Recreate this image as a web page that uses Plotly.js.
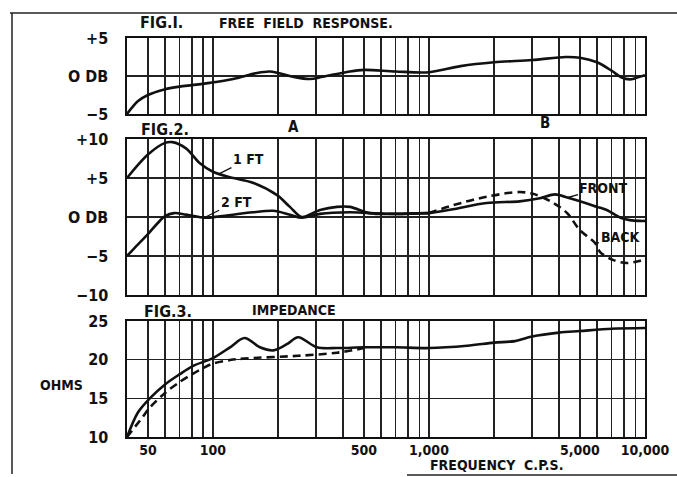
<!DOCTYPE html>
<html>
<head>
<meta charset="utf-8">
<script src="https://cdn.plot.ly/plotly-3.0.1.min.js"></script>
<style>html,body{margin:0;padding:0;background:#fff;}#chart{width:677px;height:477px;}</style>
</head>
<body>
<div id="chart"></div>
<script>
// ---- DATA ----
const fig1Freq = [40, 45, 50, 59, 70, 80, 97, 124, 160, 183, 200, 235, 281, 322, 430, 500, 700, 1000, 1400, 2000, 3000, 4300, 5000, 6000, 7000, 7800, 8500, 9000, 10000];
const fig1DB   = [-5, -3.3, -2.5, -1.8, -1.4, -1.2, -0.9, -0.4, 0.4, 0.6, 0.4, -0.1, -0.4, -0.1, 0.6, 0.8, 0.6, 0.5, 1.3, 1.8, 2.1, 2.5, 2.4, 1.8, 0.7, -0.2, -0.45, -0.3, 0.1];

const oneFtFreq = [40, 50, 60, 65, 75, 87, 100, 120, 153, 198, 227, 258, 313, 375, 430, 530, 700, 1000];
const oneFtDB   = [5, 8.0, 9.5, 9.6, 8.8, 6.9, 5.8, 5.1, 4.4, 2.8, 1.3, 0, 0.9, 1.3, 1.3, 0.5, 0.4, 0.5];

const twoFtFreq = [40, 45, 50, 55, 60, 66, 75, 92, 108, 153, 190, 227, 258, 313, 430, 530, 700, 1000];
const twoFtDB   = [-5, -3.5, -2.2, -0.9, 0.1, 0.5, 0.3, -0.1, 0.1, 0.6, 0.8, 0.3, -0.1, 0.4, 0.6, 0.5, 0.4, 0.5];

const frontFreq = [1000, 1290, 1850, 2630, 3260, 3830, 4490, 5300, 6000, 6650, 7700, 8500, 9500, 10000];
const frontDB   = [0.5, 1.0, 1.8, 2.0, 2.4, 2.9, 2.4, 1.8, 1.3, 0.9, -0.1, -0.4, -0.5, -0.5];

const backFreq = [1000, 1290, 1850, 2630, 3100, 3770, 4360, 5000, 5860, 6200, 7100, 8250, 9500, 10000];
const backDB   = [0.5, 1.5, 2.6, 3.2, 2.9, 1.8, 0.5, -1.7, -3.3, -4.5, -5.5, -5.9, -5.6, -5.4];

const impFreq = [40, 45, 51, 60, 70, 81, 100, 120, 140, 165, 190, 220, 248, 303, 375, 500, 700, 1000, 1500, 2000, 2500, 3000, 4000, 5000, 7000, 10000];
const impOhms = [10, 13.2, 15.0, 16.8, 18.1, 19.2, 20.2, 21.6, 22.8, 21.6, 21.2, 22.0, 22.9, 21.6, 21.5, 21.6, 21.6, 21.5, 21.8, 22.2, 22.4, 23.0, 23.5, 23.7, 24.0, 24.1];

const impDashFreq = [40, 47, 51, 60, 70, 81, 90, 100, 120, 140, 248, 375, 500];
const impDashOhms = [10, 12.5, 13.8, 15.7, 17.1, 18.2, 18.9, 19.5, 19.95, 20.15, 20.5, 20.9, 21.5];

const gridFreqs = [50,60,70,80,90,100,200,300,400,500,600,700,800,900,1000,2000,3000,4000,5000,6000,7000,8000,9000,10000];
const labelFreqs = {50:'50', 100:'100', 500:'500', 1000:'1,000', 5000:'5,000', 10000:'10,000'};

const fig1Ticks = [-5, 0, 5], fig1TickText = ['\u22125', 'O DB', '+5'];
const fig2Ticks = [-10, -5, 0, 5, 10], fig2TickText = ['\u221210', '\u22125', 'O DB', '+5', '+10'];
const fig3Ticks = [10, 15, 20, 25], fig3TickText = ['10', '15', '20', '25'];

// ---- STYLE / LAYOUT ----
const FONT = 'DejaVu Sans Condensed, Liberation Sans, Arial, sans-serif';
const L = 127, T = 38, W = 518, H = 399;
const px = v => (v - L) / W;
const py = v => (T + H - v) / H;

const line = {color: '#111', width: 2.6, shape: 'spline', smoothing: 0.9};
const dashLine = Object.assign({}, line, {dash: '8px,5px'});

const traces = [
  {x: fig1Freq, y: fig1DB, xaxis: 'x', yaxis: 'y', mode: 'lines', line: line},
  {x: oneFtFreq, y: oneFtDB, xaxis: 'x2', yaxis: 'y2', mode: 'lines', line: line},
  {x: twoFtFreq, y: twoFtDB, xaxis: 'x2', yaxis: 'y2', mode: 'lines', line: line},
  {x: frontFreq, y: frontDB, xaxis: 'x2', yaxis: 'y2', mode: 'lines', line: line},
  {x: backFreq, y: backDB, xaxis: 'x2', yaxis: 'y2', mode: 'lines', line: dashLine},
  {x: impFreq, y: impOhms, xaxis: 'x3', yaxis: 'y3', mode: 'lines', line: line},
  {x: impDashFreq, y: impDashOhms, xaxis: 'x3', yaxis: 'y3', mode: 'lines', line: dashLine}
];

function xax(anchor, labels) {
  return {
    anchor: anchor, domain: [0, 1], type: 'log', range: [Math.log10(40), 4],
    tickmode: 'array', tickvals: gridFreqs,
    ticktext: gridFreqs.map(f => labelFreqs[f] || ''),
    showticklabels: labels, ticks: '',
    ticklabelstandoff: 0,
    tickfont: {family: FONT, size: 14, color: '#111', weight: 'bold'},
    showgrid: true, gridcolor: '#222', gridwidth: 1.2,
    showline: true, mirror: true, linecolor: '#111', linewidth: 1.6,
    zeroline: false, fixedrange: true
  };
}
function yax(domain, range, tv, tt) {
  return {
    domain: domain, range: range, tickmode: 'array', tickvals: tv, ticktext: tt,
    ticks: '', ticklabelstandoff: 14,
    tickfont: {family: FONT, size: 16, color: '#111', weight: 'bold'},
    showgrid: true, gridcolor: '#222', gridwidth: 1.2,
    showline: true, mirror: true, linecolor: '#111', linewidth: 1.6,
    zeroline: false, fixedrange: true
  };
}

function txt(text, x, y, size, anchor) {
  return {text: text, xref: 'paper', yref: 'paper', x: px(x), y: py(y),
    xanchor: anchor || 'left', yanchor: 'middle', showarrow: false,
    font: {family: FONT, size: size || 14, color: '#111', weight: 'bold'}};
}
function lbl(text, f, v, ax, ay) {
  return {text: text, xref: 'x2', yref: 'y2', x: Math.log10(f), y: v, ax: ax, ay: ay,
    showarrow: true, arrowhead: 0, arrowwidth: 1.3, arrowcolor: '#111', standoff: 0,
    font: {family: FONT, size: 14, color: '#111', weight: 'bold'}};
}

const layout = {
  width: 677, height: 477,
  margin: {l: L, r: 677 - L - W, t: T, b: 477 - T - H},
  paper_bgcolor: '#fff', plot_bgcolor: '#fff',
  showlegend: false,
  xaxis: xax('y', false),
  xaxis2: xax('y2', false),
  xaxis3: xax('y3', true),
  yaxis: yax([py(114), 1], [-5, 5], fig1Ticks, fig1TickText),
  yaxis2: yax([py(295), py(139)], [-10, 10], fig2Ticks, fig2TickText),
  yaxis3: yax([0, py(321)], [10, 25], fig3Ticks, fig3TickText),
  annotations: [
    txt('FIG.I.', 138, 23, 16),
    txt('FREE  FIELD  RESPONSE.', 217, 23, 14),
    txt('FIG.2.', 139, 129, 16),
    txt('A', 293, 127, 15, 'center'),
    txt('B', 545, 123, 15, 'center'),
    txt('FIG.3.', 142, 311, 16),
    txt('IMPEDANCE', 250, 310, 14),
    txt('OHMS', 38, 385, 14),
    txt('FREQUENCY  C.P.S.', 428, 465, 14),
    lbl('1 FT', 106, 5.5, 30, -15),
    lbl('2 FT', 91, -0.1, 32, -16),
    lbl('FRONT', 4400, 2.5, 36, -10),
    lbl('BACK', 5900, -3.4, 25, -7)
  ],
  shapes: [
    {type: 'line', xref: 'paper', yref: 'paper', x0: px(10), x1: px(677), y0: py(13), y1: py(13), line: {color: '#222', width: 1.5}},
    {type: 'line', xref: 'paper', yref: 'paper', x0: px(12), x1: px(12), y0: py(13), y1: py(474), line: {color: '#222', width: 1.5}},
    {type: 'line', xref: 'paper', yref: 'paper', x0: px(407), x1: px(677), y0: py(475), y1: py(475), line: {color: '#222', width: 1.5}}
  ]
};

Plotly.newPlot('chart', traces, layout, {displayModeBar: false, staticPlot: true});
</script>
</body>
</html>
